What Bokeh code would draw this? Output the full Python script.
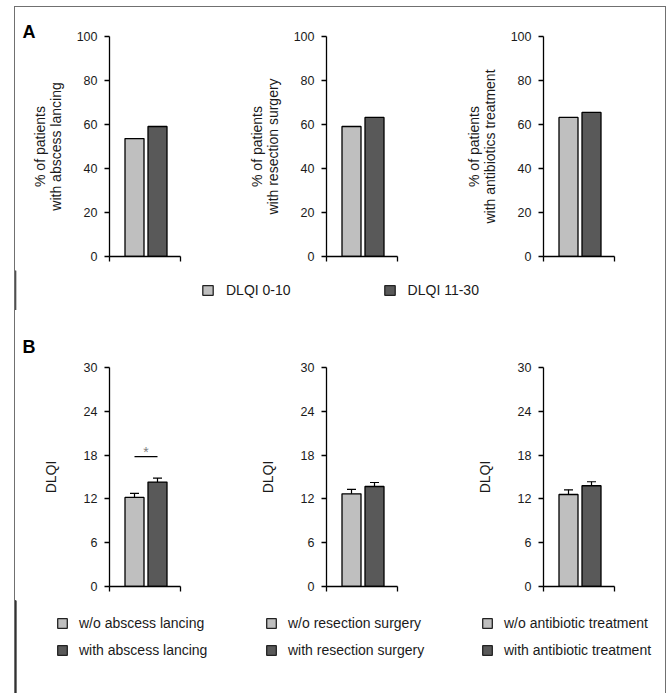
from bokeh.plotting import figure
from bokeh.layouts import row, column, Spacer
from bokeh.models import (Range1d, FixedTicker, Whisker, TeeHead, ColumnDataSource,
                          Legend, LegendItem)
from bokeh.embed import file_html
from bokeh.resources import INLINE
from bokeh.core.properties import value

FONT = "Liberation Sans"
LIGHT = "#bfbfbf"
DARK = "#595959"
INK = "#1a1a1a"
FRAME_GRAY = "#707070"

# ---------------- data ----------------
groups_A = ["DLQI 0-10", "DLQI 11-30"]
ylabels_A = ["% of patients\nwith abscess lancing",
             "% of patients\nwith resection surgery",
             "% of patients\nwith antibiotics treatment"]
pct_lancing = [53.6, 59.1]
pct_resection = [59.1, 63.2]
pct_antibiotics = [63.2, 65.5]
ticks_A = [0, 20, 40, 60, 80, 100]

dlqi_lancing = [12.2, 14.3]
err_lancing = [0.55, 0.55]
dlqi_resection = [12.7, 13.7]
err_resection = [0.6, 0.55]
dlqi_antibiotic = [12.6, 13.8]
err_antibiotic = [0.65, 0.55]
ticks_B = [0, 6, 12, 18, 24, 30]
ylabel_B = "DLQI"
legend_B = [["w/o abscess lancing", "with abscess lancing"],
            ["w/o resection surgery", "with resection surgery"],
            ["w/o antibiotic treatment", "with antibiotic treatment"]]
sig_level = 17.8
sig_mark = "*"

# ---------------- layout constants (pixels) ----------------
PX_PER_UNIT = 23.0
BORDER_L = 94


def make_panel(vals, errs, ylabel, ymax, ticks, w, h, btop, bright,
               standoff, letter=None, letter_standoff=0, sig=None):
    x0 = -25.0 / PX_PER_UNIT
    x1 = x0 + (w - BORDER_L - bright) / PX_PER_UNIT
    p = figure(width=w, height=h, x_range=Range1d(x0, x1), y_range=Range1d(0, ymax),
               output_backend="svg", toolbar_location=None,
               min_border_left=BORDER_L, min_border_right=bright,
               min_border_top=btop, min_border_bottom=14)
    p.grid.visible = False
    p.outline_line_color = None
    p.background_fill_color = None
    p.border_fill_color = None
    xs = list(range(len(vals)))
    src = ColumnDataSource(dict(x=xs, top=vals, color=[LIGHT, DARK]))
    p.vbar(x="x", top="top", width=19.0 / PX_PER_UNIT, fill_color="color",
           line_color="black", line_width=1.3, source=src)
    if errs is not None:
        esrc = ColumnDataSource(dict(x=xs,
                                     upper=[v + e for v, e in zip(vals, errs)],
                                     lower=[v - e for v, e in zip(vals, errs)]))
        wk = Whisker(source=esrc, base="x", upper="upper", lower="lower",
                     line_color="black", line_width=1.2,
                     upper_head=TeeHead(size=9, line_color="black", line_width=1.2),
                     lower_head=TeeHead(size=9, line_color="black", line_width=1.2))
        p.add_layout(wk)
    if sig is not None:
        p.line(x=[xs[0], xs[1]], y=[sig, sig], line_color="black", line_width=1.2)
        p.text(x=[(xs[0] + xs[1]) / 2], y=[sig], text=[sig_mark], text_align="center",
               text_baseline="alphabetic", text_font=value(FONT), text_font_size="14px",
               text_color="#808080", y_offset=-5)

    ya = p.yaxis[0]
    ya.ticker = FixedTicker(ticks=ticks)
    ya.minor_tick_line_color = None
    ya.major_tick_in = 0
    ya.major_tick_out = 5
    ya.axis_line_width = 1.3
    ya.major_tick_line_width = 1.3
    ya.axis_line_color = "black"
    ya.major_tick_line_color = "black"
    ya.major_label_text_font = FONT
    ya.major_label_text_font_size = "12.5px"
    ya.major_label_text_color = INK
    ya.major_label_standoff = 7
    ya.axis_label = ylabel
    ya.axis_label_text_font = FONT
    ya.axis_label_text_font_size = "14px"
    ya.axis_label_text_font_style = "normal"
    ya.axis_label_text_color = INK
    ya.axis_label_text_line_height = 0.95
    ya.axis_label_standoff = standoff

    xa = p.xaxis[0]
    xa.ticker = FixedTicker(ticks=[x0, x1])
    xa.minor_tick_line_color = None
    xa.major_tick_in = 0
    xa.major_tick_out = 5
    xa.axis_line_width = 1.3
    xa.major_tick_line_width = 1.3
    xa.axis_line_color = "black"
    xa.major_tick_line_color = "black"
    xa.major_label_text_color = None
    xa.major_label_text_font_size = "1px"

    if letter:
        p.title.text = letter
        p.title.align = "left"
        p.title.offset = -87
        p.title.standoff = letter_standoff
        p.title.text_font = FONT
        p.title.text_font_style = "bold"
        p.title.text_font_size = "18px"
        p.title.text_color = "black"
    return p


def legend_fig(w, h, specs, orientation, glyph_w, glyph_h, standoff, spacing):
    p = figure(width=w, height=h, x_range=Range1d(0, 1), y_range=Range1d(0, 1),
               output_backend="svg", toolbar_location=None,
               min_border=0, min_border_left=0, min_border_right=0,
               min_border_top=0, min_border_bottom=0)
    p.axis.visible = False
    p.grid.visible = False
    p.outline_line_color = None
    p.background_fill_color = None
    p.border_fill_color = None
    for labels, loc in specs:
        items = []
        for lab, col in zip(labels, [LIGHT, DARK]):
            # swatch renderer: kept outside the visible range, only its style is used
            r = p.vbar(x=[-10], top=[1], width=0.1, fill_color=col, line_color="#222222",
                       line_width=1.3)
            items.append(LegendItem(label=lab, renderers=[r]))
        lg = Legend(items=items, location=loc, orientation=orientation,
                    glyph_width=glyph_w, glyph_height=glyph_h,
                    label_standoff=standoff, spacing=spacing, padding=0, margin=0,
                    label_height=14, border_line_color=None, background_fill_alpha=0,
                    label_text_font=FONT, label_text_font_size="14px",
                    label_text_color=INK)
        p.add_layout(lg)
    return p


W = [217, 217, 216]
BR = [52, 52, 51]

pA = [make_panel(pct_lancing, None, ylabels_A[0], 100, ticks_A, W[0], 263, 29, BR[0], 10,
                 letter="A", letter_standoff=-10),
      make_panel(pct_resection, None, ylabels_A[1], 100, ticks_A, W[1], 263, 29, BR[1], 10),
      make_panel(pct_antibiotics, None, ylabels_A[2], 100, ticks_A, W[2], 263, 29, BR[2], 10)]

legA = legend_fig(650, 40, [(groups_A, (186, 12))], "horizontal", 13, 12, 12, 92)

pB = [make_panel(dlqi_lancing, err_lancing, ylabel_B, 30, ticks_B, W[0], 290, 57, BR[0], 22,
                 letter="B", letter_standoff=22, sig=sig_level),
      make_panel(dlqi_resection, err_resection, ylabel_B, 30, ticks_B, W[1], 290, 57, BR[1], 22),
      make_panel(dlqi_antibiotic, err_antibiotic, ylabel_B, 30, ticks_B, W[2], 290, 57, BR[2], 22)]

legB = legend_fig(650, 93, [(legend_B[0], (41, 35)), (legend_B[1], (250, 35)),
                            (legend_B[2], (466, 35))], "vertical", 12, 12, 11, 11)

content = column(row(*pA), legA, row(*pB), legB)
INNER_H = 263 + 40 + 290 + 93
line_style = {"background-color": FRAME_GRAY, "position": "relative", "z-index": "100"}
left_line = Spacer(width=1, height=INNER_H, styles=line_style)
right_line = Spacer(width=1, height=INNER_H, styles=line_style)
top_line = Spacer(width=652, height=1, styles=line_style)

layout = column(top_line, row(left_line, content, right_line),
                styles={"background-color": "white"},
                margin=(6, 0, 0, 14))

open("out.html", "w").write(file_html(layout, INLINE))
